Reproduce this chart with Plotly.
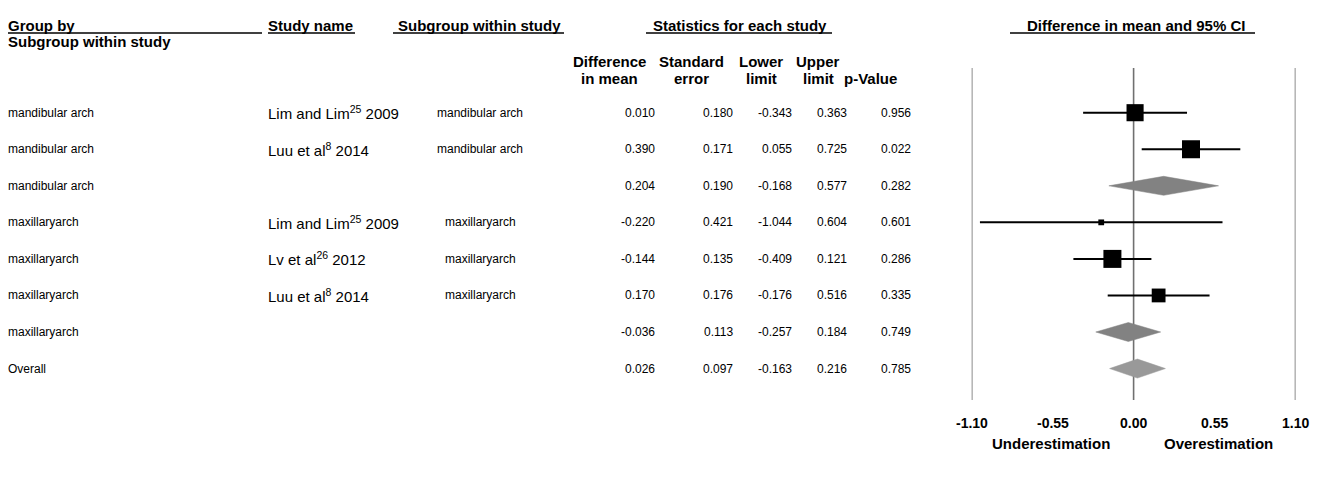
import plotly.graph_objects as go

W, H = 1319, 478

# ---- data ----
group_labels = ["mandibular arch", "mandibular arch", "mandibular arch",
                "maxillaryarch", "maxillaryarch", "maxillaryarch", "maxillaryarch", "Overall"]
study_names = ["Lim and Lim<sup>25</sup> 2009", "Luu et al<sup>8</sup> 2014", "",
               "Lim and Lim<sup>25</sup> 2009", "Lv et al<sup>26</sup> 2012", "Luu et al<sup>8</sup> 2014", "", ""]
subgroups = ["mandibular arch", "mandibular arch", "",
             "maxillaryarch", "maxillaryarch", "maxillaryarch", "", ""]
diff_mean = [0.010, 0.390, 0.204, -0.220, -0.144, 0.170, -0.036, 0.026]
std_err = [0.180, 0.171, 0.190, 0.421, 0.135, 0.176, 0.113, 0.097]
lower = [-0.343, 0.055, -0.168, -1.044, -0.409, -0.176, -0.257, -0.163]
upper = [0.363, 0.725, 0.577, 0.604, 0.121, 0.516, 0.184, 0.216]
p_value = [0.956, 0.022, 0.282, 0.601, 0.286, 0.335, 0.749, 0.785]
row_kind = ["study", "study", "subtotal", "study", "study", "study", "subtotal", "overall"]
subgroup_of = ["mand", "mand", "mand", "max", "max", "max", "max", "all"]
x_ticks = [-1.10, -0.55, 0.00, 0.55, 1.10]

# ---- geometry helpers ----
ROW0, ROWH = 112.7, 36.55  # pixel centre of first row, row pitch


def px(x):
    return x / W


def py(y):
    return 1 - y / H


FONT = "Liberation Sans, Arial, sans-serif"
HDR = dict(family=FONT, size=15, color="black", weight="bold")
CELL = dict(family=FONT, size=12, color="black")
NAME = dict(family=FONT, size=15, color="black")

fig = go.Figure()

# confidence-interval whiskers for individual studies
seg_x, seg_y = [], []
for i, k in enumerate(row_kind):
    if k == "study":
        seg_x += [lower[i], upper[i], None]
        seg_y += [i, i, None]
fig.add_trace(go.Scatter(x=seg_x, y=seg_y, mode="lines",
                         line=dict(color="black", width=2), hoverinfo="skip",
                         showlegend=False, cliponaxis=False))

# study squares, side scaled by inverse standard error within each subgroup
max_inv = {}
for i, k in enumerate(row_kind):
    if k == "study":
        g = subgroup_of[i]
        max_inv[g] = max(max_inv.get(g, 0), 1 / std_err[i])
sq_x, sq_y, sq_s = [], [], []
for i, k in enumerate(row_kind):
    if k == "study":
        sq_x.append(diff_mean[i])
        sq_y.append(i)
        sq_s.append(18 * (1 / std_err[i]) / max_inv[subgroup_of[i]])
fig.add_trace(go.Scatter(x=sq_x, y=sq_y, mode="markers",
                         marker=dict(symbol="square", size=sq_s, color="black",
                                     opacity=1, line=dict(width=0)),
                         showlegend=False, cliponaxis=False))

# pooled-estimate diamonds
half_h = 9.5 / ROWH
for i, k in enumerate(row_kind):
    if k in ("subtotal", "overall"):
        col = "#828282" if k == "subtotal" else "#999999"
        fig.add_trace(go.Scatter(
            x=[lower[i], diff_mean[i], upper[i], diff_mean[i], lower[i]],
            y=[i, i - half_h, i, i + half_h, i],
            mode="lines", fill="toself", fillcolor=col,
            line=dict(color=col, width=0.5), showlegend=False,
            hoverinfo="skip", cliponaxis=False))

# vertical reference lines at -1.10, 0 and 1.10
for xv in (x_ticks[0], x_ticks[2], x_ticks[-1]):
    fig.add_shape(type="line", xref="x", yref="paper", x0=xv, x1=xv,
                  y0=py(68), y1=py(400), line=dict(color="#707070", width=1.6),
                  layer="below")

ann = []


def txt(text, x, y, font, xanchor="left", yref="paper"):
    ann.append(dict(text=text, x=x, y=y, xref="paper", yref=yref,
                    xanchor=xanchor, yanchor="middle", showarrow=False,
                    borderpad=0, font=font))


# header block
txt("Group by", px(7), py(25), HDR)
txt("Subgroup within study", px(7), py(42), HDR)
txt("Study name", px(267), py(25), HDR)
txt("Subgroup within study", px(479), py(25), HDR, "center")
txt("Statistics for each study", px(740), py(25), HDR, "center")
txt("Difference in mean and 95% CI", px(1136), py(25), HDR, "center")
for x0, x1 in [(8, 262), (268, 355), (393, 564), (646, 832), (1010, 1255)]:
    fig.add_shape(type="line", xref="paper", yref="paper", x0=px(x0), x1=px(x1),
                  y0=py(33), y1=py(33), line=dict(color="black", width=1.3))

col_heads = [("Difference", "in mean", 609), ("Standard", "error", 691),
             ("Lower", "limit", 761), ("Upper", "limit", 818), ("", "p-Value", 870)]
for l1, l2, cx in col_heads:
    if l1:
        txt(l1, px(cx), py(62), HDR, "center")
    txt(l2, px(cx), py(78), HDR, "center")

# table rows
for i in range(len(group_labels)):
    txt(group_labels[i], px(7), i, CELL, yref="y")
    if study_names[i]:
        txt(study_names[i], px(267), i, NAME, yref="y")
    if subgroups[i]:
        txt(subgroups[i], px(480), i, CELL, "center", yref="y")
    for vals, right in [(diff_mean, 656), (std_err, 734), (lower, 793),
                        (upper, 848), (p_value, 912)]:
        txt(f"{vals[i]:.3f}", px(right), i, CELL, "right", yref="y")

# x-axis labels under the forest plot
for t in x_ticks:
    ann.append(dict(text=f"{t:.2f}", x=t, y=py(423), xref="x", yref="paper",
                    xanchor="center", yanchor="middle", showarrow=False,
                    font=dict(HDR, size=14)))
ann.append(dict(text="Underestimation", x=-0.56, y=py(443), xref="x", yref="paper",
                xanchor="center", yanchor="middle", showarrow=False, font=HDR))
ann.append(dict(text="Overestimation", x=0.58, y=py(443), xref="x", yref="paper",
                xanchor="center", yanchor="middle", showarrow=False, font=HDR))

fig.update_layout(
    width=W, height=H, margin=dict(l=0, r=0, t=0, b=0),
    paper_bgcolor="white", plot_bgcolor="white",
    annotations=ann,
    xaxis=dict(domain=[px(971.7), px(1295.5)], range=[x_ticks[0], x_ticks[-1]],
               visible=False, fixedrange=True),
    yaxis=dict(domain=[0, 1], range=[(H - ROW0) / ROWH, -ROW0 / ROWH],
               visible=False, fixedrange=True),
)

fig.write_html("out.html")
